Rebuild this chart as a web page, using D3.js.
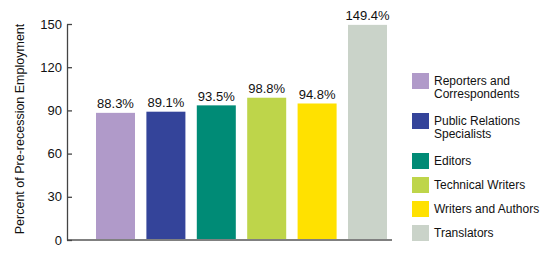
<!DOCTYPE html>
<html>
<head>
<meta charset="utf-8">
<script src="https://cdn.jsdelivr.net/npm/d3@7.9.0/dist/d3.min.js"></script>
<style>
  html, body { margin: 0; padding: 0; background: #fff; }
  svg { display: block; font-family: "Liberation Sans", Arial, sans-serif; }
</style>
</head>
<body>
<svg id="chart" width="548" height="258"></svg>
<script>
const categories = [
  "Reporters and Correspondents",
  "Public Relations Specialists",
  "Editors",
  "Technical Writers",
  "Writers and Authors",
  "Translators"
];
const values = [88.3, 89.1, 93.5, 98.8, 94.8, 149.4];
const colors = ["#b09ac9", "#34449a", "#008b76", "#bed54a", "#ffe100", "#cad3c9"];
const yTicks = [0, 30, 60, 90, 120, 150];
const yTitle = "Percent of Pre-recession Employment";

const svg = d3.select("#chart");

const axisX = 67, baseY = 240, topY = 24;

const y = d3.scaleLinear().domain([0, 150]).range([baseY, topY]);
const x = d3.scaleBand()
  .domain(categories)
  .range([90.3, 392.7])
  .paddingInner(0.226)
  .paddingOuter(0.113);

// bars
svg.append("g").selectAll("rect")
  .data(categories)
  .join("rect")
  .attr("x", d => x(d))
  .attr("width", x.bandwidth())
  .attr("y", (d, i) => y(values[i]))
  .attr("height", (d, i) => y(0) - y(values[i]))
  .attr("fill", (d, i) => colors[i]);

// value labels
svg.append("g").selectAll("text")
  .data(categories)
  .join("text")
  .attr("x", d => x(d) + x.bandwidth() / 2)
  .attr("y", (d, i) => y(values[i]) - 4.5)
  .attr("text-anchor", "middle")
  .attr("font-size", 13)
  .attr("fill", "#111")
  .text((d, i) => values[i].toFixed(1) + "%");

// baseline
svg.append("line")
  .attr("x1", axisX).attr("x2", 392)
  .attr("y1", baseY).attr("y2", baseY)
  .attr("stroke", "#808080")
  .attr("stroke-width", 2);

// y axis
const yAxis = svg.append("g")
  .attr("transform", `translate(${axisX},0)`)
  .call(d3.axisLeft(y).tickValues(yTicks).tickSizeInner(-5).tickSizeOuter(0).tickPadding(5));
yAxis.select(".domain").attr("stroke", "#444").attr("stroke-width", 1.3);
yAxis.selectAll(".tick line").attr("stroke", "#444").attr("stroke-width", 1.3);
yAxis.selectAll(".tick text")
  .attr("font-size", 13)
  .attr("font-family", "'Liberation Sans', Arial, sans-serif")
  .attr("fill", "#111");

// y title
svg.append("text")
  .attr("transform", `translate(24,129) rotate(-90)`)
  .attr("text-anchor", "middle")
  .attr("font-size", 12.5)
  .attr("fill", "#111")
  .text(yTitle);

// legend
const legend = svg.append("g");
let ly = 73;
categories.forEach((name, i) => {
  const g = legend.append("g");
  g.append("rect")
    .attr("x", 412).attr("y", ly)
    .attr("width", 17).attr("height", 16)
    .attr("fill", colors[i]);
  const t = g.append("text")
    .attr("x", 434).attr("y", ly + 12)
    .attr("font-size", 12)
    .attr("fill", "#111");
  // wrap words to fit
  const words = name.split(" ");
  const lines = [];
  let cur = [];
  const probe = t.append("tspan");
  words.forEach(w => {
    const test = cur.concat(w).join(" ");
    probe.text(test);
    if (probe.node().getComputedTextLength() > 110 && cur.length) {
      lines.push(cur.join(" "));
      cur = [w];
    } else {
      cur.push(w);
    }
  });
  lines.push(cur.join(" "));
  probe.remove();
  lines.forEach((line, j) => {
    t.append("tspan").attr("x", 434).attr("dy", j === 0 ? 0 : 13).text(line);
  });
  ly += 24 + (lines.length - 1) * 16;
});
</script>
</body>
</html>
